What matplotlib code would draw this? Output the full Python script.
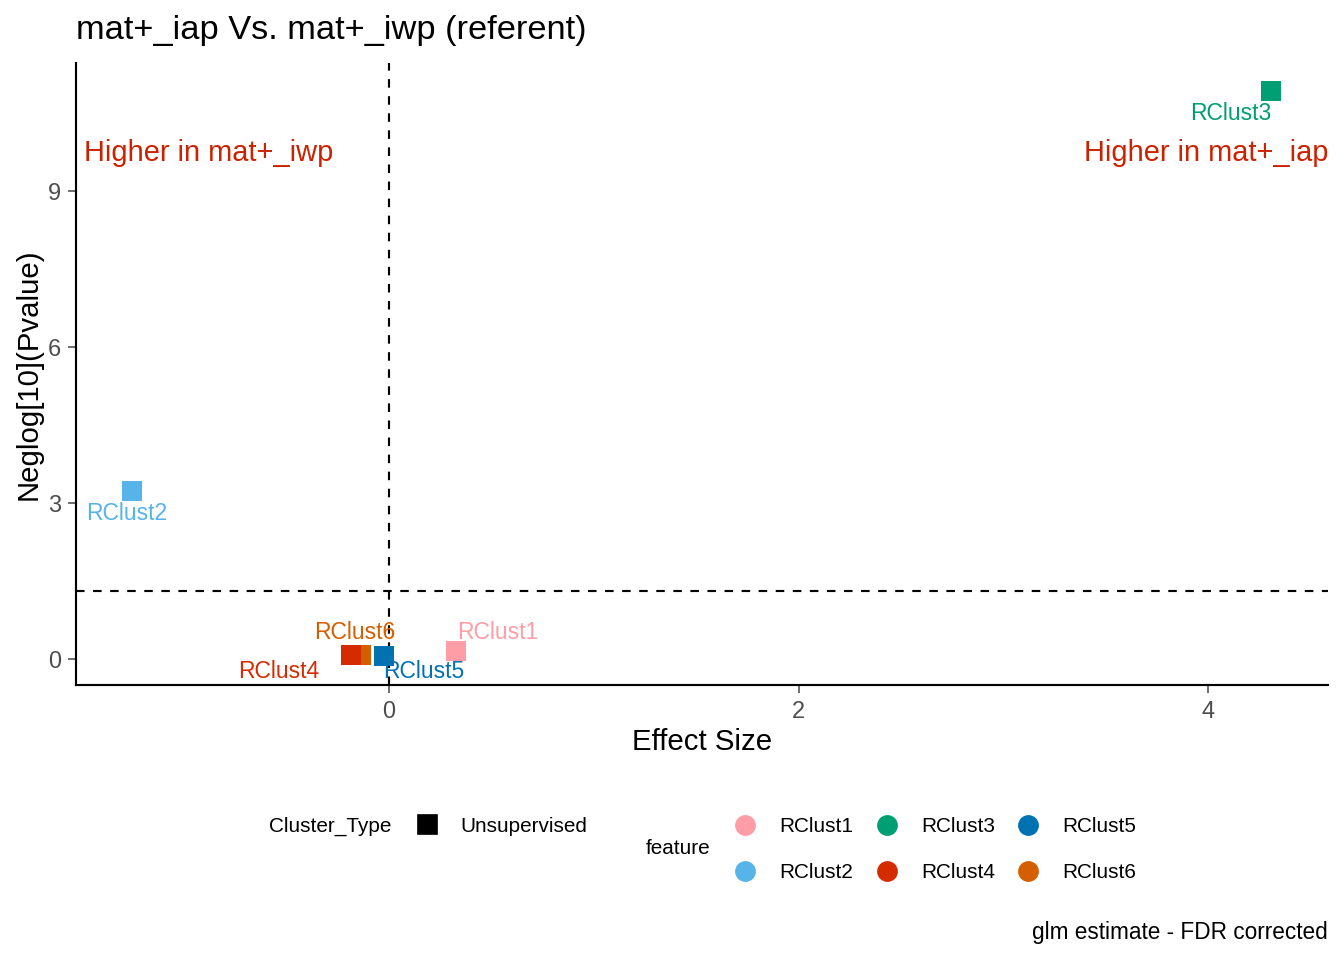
import matplotlib
matplotlib.use("Agg")
import matplotlib.pyplot as plt
from matplotlib.lines import Line2D

plt.rcParams['font.family'] = ['Liberation Sans', 'DejaVu Sans']

features = ["RClust1", "RClust2", "RClust3", "RClust4", "RClust5", "RClust6"]
effect = [0.327, -1.255, 4.308, -0.184, -0.024, -0.137]
neglogp = [0.154, 3.23, 10.92, 0.077, 0.058, 0.077]
colors = ["#FF9DA7", "#56B4E9", "#009E73", "#D52B00", "#0072B2", "#D55E00"]
# label offsets in points (dx, dy) and alignment
label_off = {
    "RClust1": (0.5, 2.5, "left", "bottom"),
    "RClust2": (-2, -4, "center", "top"),
    "RClust3": (-15, -4, "center", "top"),
    "RClust4": (-12, -2, "right", "top"),
    "RClust5": (-0.5, -1.5, "left", "top"),
    "RClust6": (-2.5, 4, "center", "bottom"),
}
draw_order = ["RClust1", "RClust2", "RClust3", "RClust6", "RClust4", "RClust5"]
sig_line = 1.30103
xlim = (-1.529, 4.586)
ylim = (-0.5, 11.46)
xticks = [0, 2, 4]
yticks = [0, 3, 6, 9]

W, H = 1344, 960
fig = plt.figure(figsize=(7, 5), dpi=192)
ax = fig.add_axes([76 / W, (960 - 685) / H, (1328 - 76) / W, (685 - 63) / H])

ax.axvline(0, color="black", linestyle=(0, (4, 4)), linewidth=0.8, zorder=1)
ax.axhline(sig_line, color="black", linestyle=(0, (4, 4)), linewidth=0.8, zorder=1)

for k, f in enumerate(draw_order):
    i = features.index(f)
    ax.scatter([effect[i]], [neglogp[i]], marker="s", s=52, color=colors[i],
               zorder=3 + 0.01 * k, linewidths=0)
for f, x, y, c in zip(features, effect, neglogp, colors):
    dx, dy, ha, va = label_off[f]
    ax.annotate(f, (x, y), xytext=(dx, dy), textcoords="offset points",
                ha=ha, va=va, color=c, fontsize=8.6, zorder=4)

ax.text(0.006, 0.855, "Higher in mat+_iwp", transform=ax.transAxes, color="#CC2200",
        fontsize=10.9, ha="left", va="center")
ax.text(1.0, 0.855, "Higher in mat+_iap", transform=ax.transAxes, color="#CC2200",
        fontsize=10.9, ha="right", va="center")

ax.set_xlim(*xlim)
ax.set_ylim(*ylim)
ax.set_xticks(xticks)
ax.set_yticks(yticks)
ax.tick_params(colors="#4D4D4D", labelsize=8.8, length=3, width=0.6, pad=2.5)
for t in ax.get_xticklabels() + ax.get_yticklabels():
    t.set_color("#4D4D4D")
for s in ["top", "right"]:
    ax.spines[s].set_visible(False)
for s in ["left", "bottom"]:
    ax.spines[s].set_linewidth(0.8)
ax.set_xlabel("Effect Size", fontsize=11, labelpad=2)
ax.set_ylabel("Neglog[10](Pvalue)", fontsize=11, labelpad=2)

fig.text(76 / W, 1 - 31 / H, "mat+_iap Vs. mat+_iwp (referent)", fontsize=12.9,
         ha="left", va="center")

# legends
lfs = 7.8
fig.text(269 / W, 1 - 826 / H, "Cluster_Type", fontsize=lfs, ha="left", va="center")
fig.add_artist(Line2D([427 / W], [1 - 824 / H], marker="s", markersize=6.5, color="black",
                      linestyle="none", transform=fig.transFigure))
fig.text(460 / W, 1 - 826 / H, "Unsupervised", fontsize=lfs, ha="left", va="center")
fig.text(646 / W, 1 - 849 / H, "feature", fontsize=lfs, ha="left", va="center")
col_x = [745, 887, 1028]
row_y = [825, 871]
order = [["RClust1", "RClust3", "RClust5"], ["RClust2", "RClust4", "RClust6"]]
for r, row in enumerate(order):
    for cidx, f in enumerate(row):
        c = colors[features.index(f)]
        fig.add_artist(Line2D([col_x[cidx] / W], [1 - row_y[r] / H], marker="o", markersize=6.8,
                              color=c, linestyle="none", transform=fig.transFigure))
        fig.text((col_x[cidx] + 34) / W, 1 - (row_y[r] + 1) / H, f, fontsize=lfs,
                 ha="left", va="center")

fig.text(1328 / W, 1 - 933 / H, "glm estimate - FDR corrected", fontsize=8.5,
         ha="right", va="center")

fig.savefig("out.png", dpi=192)
